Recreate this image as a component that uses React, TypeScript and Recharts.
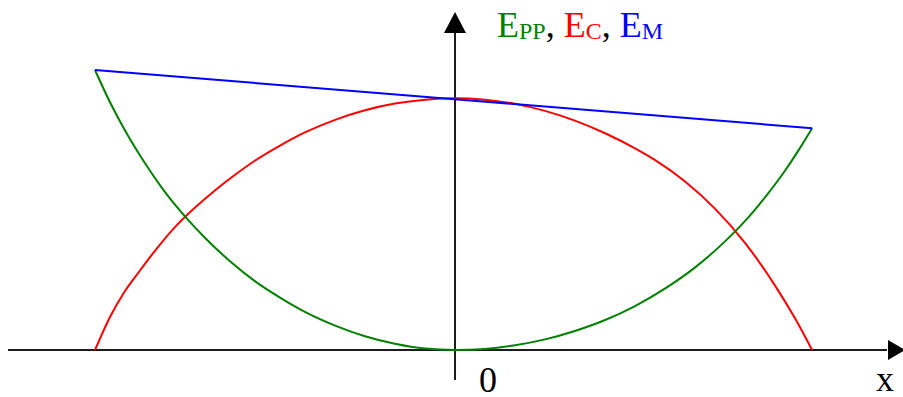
import React from 'react';
import { LineChart, Line, XAxis, YAxis, ReferenceLine, ReferenceDot } from 'recharts';

// x: position of the mass (left turning point = -1), E: energy in arbitrary units
const potentialX = [-1.0, -0.958, -0.917, -0.861, -0.806, -0.747, -0.694, -0.625, -0.556, -0.486, -0.417, -0.333, -0.25, -0.167, -0.083, 0, 0.083, 0.167, 0.25, 0.333, 0.417, 0.5, 0.583, 0.667, 0.75, 0.806, 0.861, 0.917, 0.958, 0.992];
const potentialE = [10.0, 8.84, 7.85, 6.67, 5.65, 4.73, 4.0, 3.17, 2.46, 1.87, 1.36, 0.87, 0.49, 0.22, 0.05, 0, 0.04, 0.17, 0.38, 0.68, 1.07, 1.57, 2.19, 2.95, 3.88, 4.61, 5.45, 6.41, 7.21, 7.92];

const kineticX = [-1.0, -0.958, -0.921, -0.875, -0.833, -0.778, -0.722, -0.667, -0.611, -0.556, -0.486, -0.417, -0.333, -0.25, -0.167, -0.083, 0, 0.083, 0.167, 0.25, 0.333, 0.417, 0.5, 0.556, 0.639, 0.722, 0.806, 0.889, 0.944, 0.992];
const kineticE = [0, 1.19, 2.02, 2.84, 3.55, 4.39, 5.09, 5.7, 6.26, 6.76, 7.3, 7.77, 8.22, 8.56, 8.8, 8.94, 8.99, 8.94, 8.79, 8.54, 8.19, 7.74, 7.2, 6.78, 6.02, 5.05, 3.82, 2.3, 1.14, 0];

const mechanicalX = [-1.0, 0.992];
const mechanicalE = [10.0, 7.92];

const zip = (xs: number[], es: number[]) => xs.map((x, i) => ({ x, e: es[i] }));

const AXIS = '#1c1c1c';
const SERIF = '"Liberation Serif", "Times New Roman", serif';

const xArrow = (p: any) => (
  <polygon points={`${p.cx},${p.cy} ${p.cx - 17},${p.cy - 10} ${p.cx - 17},${p.cy + 10}`} fill="#000" />
);
const yArrow = (p: any) => (
  <polygon points={`${p.cx},${p.cy} ${p.cx - 11},${p.cy + 21} ${p.cx + 11},${p.cy + 21}`} fill="#000" />
);

export default function App() {
  return (
    <div style={{ position: 'absolute', left: 0, top: 0, width: 903, height: 397, background: '#fff' }}>
      <LineChart width={903} height={397} margin={{ top: 0, right: 0, bottom: 0, left: 0 }}>
        <XAxis type="number" dataKey="x" domain={[-1.2639, 1.2444]} hide allowDataOverflow />
        <YAxis type="number" dataKey="e" domain={[-1.6786, 12.5]} hide allowDataOverflow />
        <ReferenceLine segment={[{ x: -1.2417, y: 0 }, { x: 1.2, y: 0 }]} stroke={AXIS} strokeWidth={2} ifOverflow="visible" />
        <ReferenceLine segment={[{ x: 0, y: -1.07 }, { x: 0, y: 11.4 }]} stroke={AXIS} strokeWidth={2} ifOverflow="visible" />
        <ReferenceDot x={1.25} y={0} r={0} shape={xArrow} ifOverflow="visible" />
        <ReferenceDot x={0} y={12.07} r={0} shape={yArrow} ifOverflow="visible" />
        <Line data={zip(kineticX, kineticE)} dataKey="e" type="monotone" stroke="#ff0000" strokeWidth={2} dot={false} activeDot={false} isAnimationActive={false} />
        <Line data={zip(potentialX, potentialE)} dataKey="e" type="monotone" stroke="#008000" strokeWidth={2} dot={false} activeDot={false} isAnimationActive={false} />
        <Line data={zip(mechanicalX, mechanicalE)} dataKey="e" type="linear" stroke="#0000ff" strokeWidth={2} dot={false} activeDot={false} isAnimationActive={false} />
      </LineChart>
      <svg width={903} height={397} style={{ position: 'absolute', left: 0, top: 0, pointerEvents: 'none' }}>
        <text x={497} y={37} fontFamily={SERIF} fontSize={36}>
          <tspan fill="#008000">E</tspan>
          <tspan fill="#008000" fontSize={24} dy={2}>PP</tspan>
          <tspan fill="#000" dy={-2}>, </tspan>
          <tspan fill="#ff0000">E</tspan>
          <tspan fill="#ff0000" fontSize={24} dy={2}>C</tspan>
          <tspan fill="#000" dy={-2}>, </tspan>
          <tspan fill="#0000ff">E</tspan>
          <tspan fill="#0000ff" fontSize={24} dy={2}>M</tspan>
        </text>
        <text x={488} y={392} fontFamily={SERIF} fontSize={36} textAnchor="middle" fill="#000">0</text>
        <text x={885} y={391} fontFamily={SERIF} fontSize={36} textAnchor="middle" fill="#000">x</text>
      </svg>
    </div>
  );
}
